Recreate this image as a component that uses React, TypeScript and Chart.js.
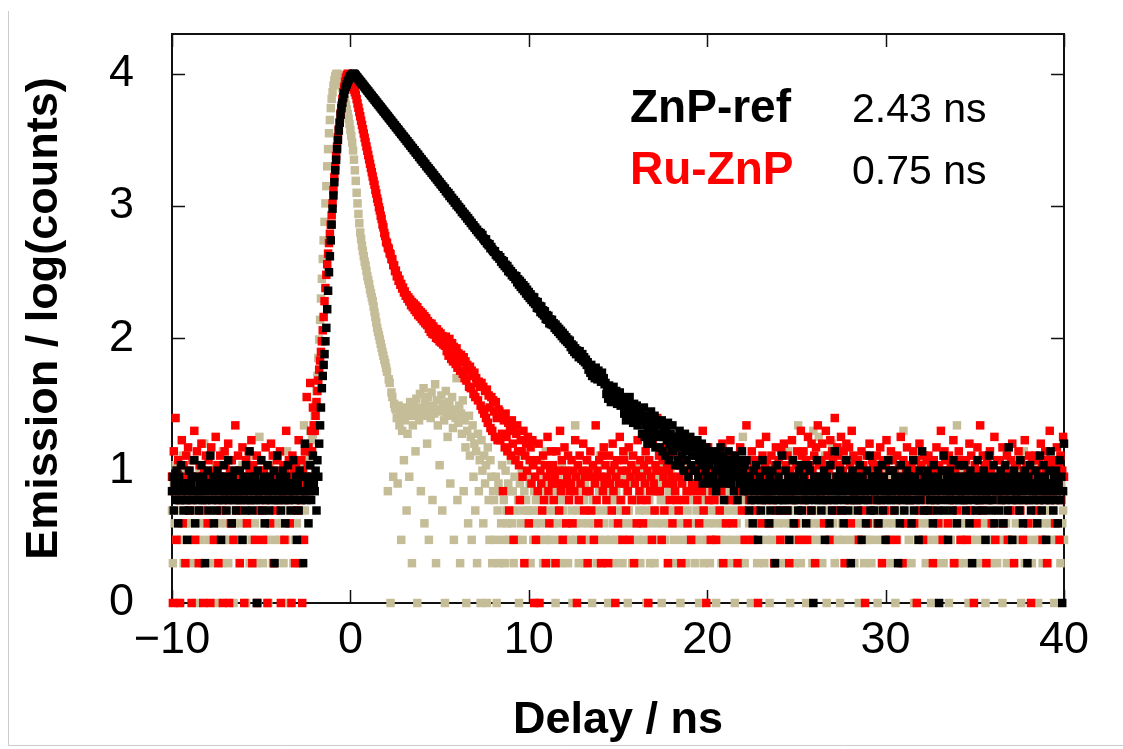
import React, { useEffect, useRef } from 'react';
import { Chart, registerables } from 'chart.js';

Chart.register(...registerables);

// ---------- axes ----------
const X_RANGE = [-10, 40];
const Y_RANGE = [0, 4.3];
const X_TICKS = [-10, 0, 10, 20, 30, 40];
const Y_TICKS = [0, 1, 2, 3, 4];
const X_TITLE = 'Delay / ns';
const Y_TITLE = 'Emission / log(counts)';

// ---------- legend / lifetimes ----------
const SERIES_NAMES = ['ZnP-ref', 'Ru-ZnP', 'IRF'];
const LIFETIMES = ['2.43 ns', '0.75 ns'];

// TCSPC channel width (ns); counts per channel, plotted as log10(counts)
const CHANNEL_NS = 0.05;

// ---------- ZnP-ref (black) ----------
const ZNP_REF_PRE = [ // from -10 ns
  7,9,5,8,6,10,7,4,9,6,11,7,8,5,6,
  8,6,3,7,10,5,8,9,6,7,12,4,7,9,6,
  5,8,7,11,6,9,7,2,8,6,10,5,7,13,8,
  6,9,4,7,8,5,10,6,7,9,3,8,6,11,7,
  9,5,7,12,6,8,7,4,9,6,10,7,5,8,6,
  7,10,6,8,3,9,7,5,11,6,8,7,14,6,9,
  5,8,7,9,6,1,10,7,6,8,12,5,7,9,4,
  8,6,11,7,5,9,6,8,7,10,2,6,8,13,7,
  6,9,5,7,10,8,6,4,9,7,11,6,8,5,7,
  8,12,7,6,9,3,8,5,10,7,6,9,2,7,16,
  9,6,8,4,7,11,6,9,13,8,7,10,5,12,9,
];
const ZNP_REF_PEAK = [ // from -1.75 ns
  16,22,30,42,52,63,76,95,120,166,229,316,417,550,724,955,1202,1514,1862,2239,
  2692,3162,3715,4266,4898,5495,6026,6607,7079,7586,7943,8318,8710,9016,9333,9550,9772,9886,10000,9990,
  9886,
];
const ZNP_REF_DECAY = [ // from 0.30 ns
  9683,9470,9330,9100,8960,8750,8620,8410,8280,8090,7960,7770,7650,7470,7360,7170,7070,6890,6800,6620,
  6530,6370,6280,6120,6040,5880,5800,5660,5570,5440,5360,5220,5150,5020,4950,4830,4760,4640,4570,4460,
  4400,4280,4230,4110,4070,3950,3910,3800,3760,3650,3610,3510,3470,3370,3340,3240,3210,3110,3090,2990,
  2970,2870,2850,2760,2740,2650,2640,2550,2530,2450,2440,2350,2340,2260,2250,2170,2160,2090,2080,2005,
  1995,1930,1920,1860,1845,1785,1775,1720,1705,1650,1640,1590,1575,1525,1515,1465,1455,1410,1400,1350,
  1355,1295,1290,1245,1255,1190,1205,1150,1150,1105,1110,1060,1070,1015,1025,985,980,945,950,900,
  905,875,870,840,840,805,810,775,775,745,745,715,715,690,685,660,660,635,635,610,
  625,590,605,570,560,545,560,525,520,505,515,480,490,470,460,450,455,430,425,415,
  425,400,410,380,390,365,382,352,360,340,352,322,335,315,322,300,310,292,298,280,
  295,265,280,255,272,245,262,236,252,228,244,218,233,210,224,202,215,195,206,188,
  204,182,190,170,188,168,176,158,174,154,163,149,160,140,150,138,148,130,139,128,
  138,126,130,120,127,116,122,112,118,108,114,104,110,100,106,97,102,94,98,91,
  96,86,90,82,88,79,84,76,81,78,72,80,74,70,76,68,72,66,69,63,
  66,58,61,55,63,52,59,56,50,60,54,49,57,51,53,47,55,48,50,45,
  46,38,42,35,44,39,33,41,37,43,34,38,40,32,37,35,39,31,36,33,
  35,27,31,24,33,29,26,36,25,30,28,23,32,27,25,31,22,28,26,24,
  27,19,24,30,18,22,26,16,21,25,19,28,17,23,20,26,15,22,24,18,
  22,15,19,24,14,18,21,13,20,17,23,12,16,19,15,22,14,18,11,17,
  18,12,16,20,11,15,13,17,10,19,14,12,16,9,15,18,11,13,16,10,
  15,10,13,17,9,12,14,11,16,8,13,12,10,15,9,14,11,13,8,12,
  12,9,14,10,7,13,11,8,12,15,10,9,13,6,11,12,8,10,14,9,
  11,8,12,10,7,13,9,11,6,10,12,8,9,14,10,7,11,9,12,8,
];
const ZNP_REF_POST = [ // from 22.30 ns
  7,5,9,6,8,4,10,7,6,11,8,3,7,9,5,6,12,8,7,10,
  6,8,7,4,9,5,7,10,6,8,2,7,11,6,9,5,8,7,13,6,
  8,6,10,7,5,9,3,7,8,6,12,4,7,9,6,8,5,10,7,11,
  5,7,9,6,8,4,7,11,6,10,7,5,8,1,9,6,7,12,8,6,
  9,7,5,8,6,10,3,7,9,6,8,4,11,7,5,8,6,14,7,9,
  6,8,7,10,5,7,9,4,6,8,12,7,5,9,6,2,8,10,7,6,
  7,9,6,5,8,11,7,3,9,6,8,7,4,10,6,8,13,5,7,9,
  8,5,7,9,6,10,4,8,7,6,11,5,9,7,3,8,6,12,7,10,
  6,7,10,8,5,9,6,7,2,8,4,11,7,6,9,5,8,7,10,6,
  9,6,8,4,7,12,5,9,6,8,7,3,10,6,7,14,8,5,9,7,
  7,10,5,8,6,9,7,4,11,6,8,7,5,9,1,8,6,10,7,13,
  5,8,7,9,3,6,10,7,8,5,12,6,9,7,4,8,11,6,7,9,
  8,6,11,7,5,9,6,8,4,10,7,2,8,6,9,5,7,12,6,8,
  6,9,7,5,10,8,3,7,6,9,13,7,5,8,6,11,4,9,7,8,
  7,5,8,10,6,9,4,7,11,6,8,5,15,7,9,6,3,8,10,7,
  9,7,6,8,5,12,7,9,4,6,10,8,7,2,9,6,11,5,8,7,
  6,8,10,7,4,9,6,13,8,5,7,11,6,9,3,7,8,10,6,14,
  8,7,5,9,6,10,7,4,8,12,6,9,1,7,16,
];

// ---------- Ru-ZnP (red) ----------
const RU_ZNP_PRE = [ // from -10 ns
  9,1,14,7,25,3,10,12,6,1,8,17,4,11,9,2,13,7,15,5,
  10,6,1,12,8,20,3,9,14,7,2,11,5,16,8,1,10,6,13,9,
  4,12,8,1,15,7,10,3,9,18,6,11,2,8,13,5,9,1,7,14,
  11,8,6,16,1,10,4,12,9,3,7,22,8,5,13,10,2,9,6,15,
  7,1,9,12,4,8,14,10,6,17,2,11,8,3,9,13,1,7,10,5,
  12,8,3,10,6,15,9,1,11,7,4,16,8,13,2,10,5,9,12,6,
  8,14,1,9,7,11,3,10,20,6,8,12,4,9,1,13,7,10,2,11,
  5,9,17,8,6,12,1,10,3,14,7,36,11,15,9,46,20,14,30,22,
];
const RU_ZNP_PEAK = [ // from -2.00 ns
  20,26,33,40,48,58,68,79,95,115,145,191,240,302,363,437,525,617,724,851,
  1047,1318,1660,1995,2399,2818,3311,3802,4266,5012,5754,6457,7244,7943,8710,9333,9772,10000,9886,9550,
  9120,8710,8318,7943,7586,7244,6918,
];
const RU_ZNP_DECAY = [ // from 0.35 ns
  6427,5957,5530,5129,4764,4416,4102,3802,3532,3273,3041,2818,2618,2427,2254,2089,1941,1799,1671,1549,
  1450,1325,1245,1140,1075,980,925,845,798,725,690,625,593,536,525,485,476,440,432,398,
  395,358,356,322,325,294,298,272,278,254,258,238,242,222,226,210,212,199,204,190,
  196,178,188,172,183,164,177,158,172,150,163,146,158,140,153,135,147,130,142,126,
  135,118,130,112,129,108,123,107,118,101,117,99,112,95,109,93,104,90,100,88,
  103,80,95,74,99,88,70,92,67,86,78,64,84,60,77,72,57,75,66,54,
  72,50,67,48,63,58,43,61,42,57,52,38,55,36,50,46,34,47,43,31,
  46,29,43,27,40,25,41,23,37,30,21,36,20,34,28,18,33,25,17,29,
  28,17,26,19,7,24,15,27,18,14,23,5,20,13,24,16,3,21,12,19,
  22,14,11,6,17,14,9,20,2,13,16,10,18,4,12,15,8,17,11,1,
];
const RU_ZNP_POST = [ // from 10.35 ns
  9,3,12,7,16,1,10,8,5,13,6,11,2,9,18,7,4,10,14,8,
  11,6,9,2,14,8,10,5,20,7,12,3,8,15,10,4,9,13,6,7,
  8,12,4,10,7,17,9,1,11,6,13,8,3,10,16,5,9,7,12,2,
  10,7,14,5,9,11,3,8,22,6,10,4,12,9,2,13,7,15,8,11,
  6,9,2,13,8,10,5,16,7,11,1,9,12,4,8,18,6,10,3,14,
  12,8,5,10,7,15,3,9,11,6,13,2,8,10,4,17,9,7,12,6,
  9,4,11,8,14,6,10,1,12,7,9,3,16,8,5,11,10,25,7,13,
  7,10,3,12,9,5,15,8,11,2,10,6,13,9,4,8,14,7,11,6,
  11,5,9,13,2,8,10,18,6,12,7,4,9,16,10,3,8,11,7,14,
  8,13,6,10,4,9,11,7,20,5,12,8,1,10,15,6,9,3,11,7,
  10,6,12,3,9,8,14,5,11,7,16,2,10,9,4,13,8,12,6,17,
  9,11,4,8,13,6,10,2,12,7,15,9,5,11,8,3,10,22,7,12,
  6,10,8,14,3,11,9,5,12,7,1,10,16,8,4,13,9,6,11,18,
  12,7,9,4,10,13,6,8,2,11,15,9,5,12,10,3,14,8,7,16,
  8,11,5,13,9,2,10,7,17,12,6,9,4,11,14,8,3,10,20,13,
  10,14,6,9,12,3,18,8,11,5,16,10,7,13,2,15,9,22,11,8,
  7,12,16,9,4,11,20,6,13,10,3,17,8,14,12,5,25,9,11,15,
  13,8,11,18,5,10,14,2,12,16,9,6,15,11,4,20,10,13,7,12,
  9,6,12,3,10,8,14,5,11,7,1,9,13,4,10,16,8,6,12,11,
  11,7,9,13,4,10,6,15,8,2,12,9,5,11,17,7,3,10,8,14,
  8,12,5,10,9,3,13,7,11,6,18,9,2,12,8,4,10,15,7,11,
  10,6,11,8,14,4,9,12,1,10,7,16,5,11,9,3,13,8,6,12,
  7,13,9,5,11,8,2,12,10,6,15,9,4,11,7,20,8,3,10,14,
  12,8,10,4,13,7,11,6,9,17,2,10,8,5,12,14,9,3,11,7,
  9,11,6,12,3,10,8,16,5,13,7,9,1,11,8,4,15,10,6,22,
  10,5,13,8,11,7,2,12,9,6,14,10,4,11,8,18,3,9,12,7,
  8,12,6,10,15,4,9,11,7,13,3,10,8,5,12,16,9,2,11,6,
  11,7,14,9,5,12,8,3,10,17,6,11,9,4,13,8,1,12,10,7,
  9,13,5,10,8,12,6,16,11,3,9,7,14,10,2,12,8,20,6,11,
  10,7,12,4,9,15,8,11,3,13,6,10,18,9,
];

// ---------- IRF (tan) ----------
const IRF_PRE = [ // from -10 ns
  5,2,8,4,11,3,7,1,6,9,3,5,13,2,7,4,10,6,3,8,
  4,9,2,6,3,12,5,7,1,8,4,10,3,6,2,5,16,7,4,9,
  7,3,5,10,2,6,4,8,3,11,5,1,7,4,9,2,6,14,3,5,
  6,4,9,2,7,3,12,5,8,1,4,6,10,3,5,7,2,9,4,11,
  3,8,5,1,6,4,9,2,7,13,3,5,8,4,6,2,10,5,18,7,
  5,7,2,10,4,6,3,8,1,5,11,4,7,2,9,3,6,12,4,8,
  8,3,6,4,9,2,5,7,3,14,6,1,4,8,5,10,2,7,3,6,
  4,9,5,2,11,6,3,8,22,5,7,13,9,16,12,20,
];
const IRF_PEAK = [ // from -2.20 ns
  14,17,19,22,26,32,40,52,71,98,138,200,282,398,550,759,1047,1413,1995,2692,
  3548,4467,5495,6457,7244,8128,8913,9550,9886,10000,9886,9550,9120,8710,8222,7762,7244,6761,6310,5821,
  5370,4955,4571,4169,3758,3388,3020,2630,2239,1862,1549,1259,1047,871,741,631,562,501,457,417,
  380,355,324,295,275,257,234,219,204,191,174,158,145,132,120,112,105,98,91,85,
  79,74,69,65,60,56,7,49,46,1,39,36,9,32,30,
];
const IRF_BUMP = [ // from 2.55 ns
  29,25,8,31,22,27,3,20,26,12,
  24,30,5,19,28,9,33,26,2,22,
  31,27,14,35,1,29,24,38,7,30,
  26,42,4,33,28,16,36,3,31,25,
  39,6,30,27,45,2,34,22,29,11,
  28,37,5,32,24,1,40,27,18,30,
  33,8,26,36,21,3,29,25,50,6,
  23,31,2,27,19,34,7,24,15,1,
  20,4,26,13,18,3,22,9,16,5,
  14,2,19,7,12,1,17,10,4,13,
  8,11,1,15,6,3,12,9,2,7,
];
const IRF_POST = [ // from 8.05 ns
  6,3,9,1,5,8,2,7,4,11,3,6,2,10,5,4,8,3,7,12,
  4,7,2,9,5,3,13,6,1,8,4,10,3,5,7,2,6,9,4,5,
  8,2,5,11,3,7,4,6,1,9,5,3,12,4,7,2,8,6,14,3,
  5,9,3,6,2,8,4,10,5,1,7,3,9,4,6,2,11,5,8,3,
  7,4,10,2,6,3,9,5,1,8,4,22,3,7,5,2,10,6,4,9,
  3,6,8,2,5,12,4,7,3,9,1,6,4,10,5,2,8,3,7,13,
  9,2,5,4,11,3,7,6,1,8,5,3,9,4,6,2,10,7,3,5,
  4,8,3,6,2,9,5,14,4,7,1,5,3,10,6,2,8,4,11,6,
  6,3,10,5,2,7,4,9,3,12,5,1,8,4,6,2,9,3,7,5,
  2,7,4,9,5,3,8,6,1,11,4,6,3,16,5,2,7,4,10,8,
  5,9,3,7,2,6,4,12,5,1,8,3,9,6,4,2,7,5,11,3,
  7,3,6,10,4,2,8,5,3,9,1,6,4,13,5,2,7,3,8,6,
  4,8,2,5,11,3,6,9,4,1,7,5,10,3,6,2,8,4,12,5,
  3,6,9,4,2,7,5,10,3,8,1,6,4,11,5,2,9,3,7,18,
  6,2,8,5,3,10,4,7,1,9,5,3,6,12,4,2,8,5,7,4,
  8,4,6,2,9,3,11,5,7,1,4,8,3,6,10,2,5,9,4,7,
  5,3,7,10,2,6,4,9,3,8,14,5,1,7,4,11,6,2,8,3,
  6,22,4,8,2,5,9,3,12,6,1,7,4,10,3,5,8,2,20,4,
  9,5,3,7,18,4,11,6,2,8,3,13,5,1,7,4,10,6,3,16,
  4,7,2,9,5,3,8,6,1,10,4,7,3,12,5,2,6,9,4,8,
  7,3,10,5,2,6,4,9,3,1,8,5,11,4,6,2,7,3,9,5,
  3,8,5,2,7,4,12,6,3,9,1,5,8,4,10,2,6,3,7,11,
  6,4,9,3,5,2,8,7,4,13,1,6,3,10,5,2,9,4,7,20,
  5,2,7,4,10,3,6,9,2,8,5,1,11,4,6,3,8,5,12,4,
  8,3,5,11,2,7,4,6,3,9,1,5,10,4,7,2,6,3,8,5,
  4,9,3,6,2,8,5,12,4,7,1,6,3,10,5,2,9,4,7,22,
  7,2,6,4,10,3,5,8,2,11,4,6,1,9,3,7,5,2,8,4,
  5,8,3,9,4,6,2,7,5,13,3,1,8,4,10,6,2,7,3,9,
  6,3,10,5,2,7,4,9,3,6,1,8,5,11,4,2,7,3,12,5,
  3,7,5,2,8,4,6,10,3,9,5,1,7,4,14,2,6,3,8,4,
  9,4,6,2,11,5,3,7,4,8,1,6,3,10,5,2,9,4,7,6,
  5,2,8,4,6,3,12,5,1,9,4,7,3,6,10,2,8,4,5,3,
];

// segment start times (ns) paired with their count arrays
const ZNP_REF_SEGMENTS: [number, number[]][] = [[-10, ZNP_REF_PRE], [-1.75, ZNP_REF_PEAK], [0.3, ZNP_REF_DECAY], [22.3, ZNP_REF_POST]];
const RU_ZNP_SEGMENTS: [number, number[]][] = [[-10, RU_ZNP_PRE], [-2.0, RU_ZNP_PEAK], [0.35, RU_ZNP_DECAY], [10.35, RU_ZNP_POST]];
const IRF_SEGMENTS: [number, number[]][] = [[-10, IRF_PRE], [-2.2, IRF_PEAK], [2.55, IRF_BUMP], [8.05, IRF_POST]];

function toPoints(segments: [number, number[]][]) {
  const pts: { x: number; y: number }[] = [];
  for (const [start, counts] of segments) {
    counts.forEach((c, i) => {
      const x = start + i * CHANNEL_NS;
      if (c > 0 && x >= X_RANGE[0] - 1e-6 && x <= X_RANGE[1] + 1e-6) {
        pts.push({ x, y: Math.log10(c) });
      }
    });
  }
  return pts;
}

const FONT = '"Liberation Sans", Arial, Helvetica, sans-serif';

const framePlugin = {
  id: 'frame',
  beforeDraw(chart: any) {
    const ctx = chart.ctx;
    ctx.save();
    ctx.fillStyle = '#ffffff';
    ctx.fillRect(0, 0, chart.width, chart.height);
    ctx.strokeStyle = '#cccccc';
    ctx.lineWidth = 1;
    ctx.beginPath();
    ctx.moveTo(8.5, 11);
    ctx.lineTo(8.5, 745.5);
    ctx.lineTo(chart.width, 745.5);
    ctx.stroke();
    ctx.restore();
  },
  beforeDatasetsDraw(chart: any) {
    const { ctx, chartArea: a, scales } = chart;
    ctx.save();
    ctx.strokeStyle = '#111111';
    ctx.lineWidth = 2;
    ctx.strokeRect(a.left, a.top, a.right - a.left, a.bottom - a.top);
    ctx.lineWidth = 1.5;
    const L = 13;
    ctx.beginPath();
    X_TICKS.forEach((v) => {
      const px = Math.round(scales.x.getPixelForValue(v)) + 0.5;
      ctx.moveTo(px, a.bottom);
      ctx.lineTo(px, a.bottom - L);
      ctx.moveTo(px, a.top);
      ctx.lineTo(px, a.top + L);
    });
    Y_TICKS.forEach((v) => {
      const py = Math.round(scales.y.getPixelForValue(v)) + 0.5;
      ctx.moveTo(a.left, py);
      ctx.lineTo(a.left + L, py);
      ctx.moveTo(a.right, py);
      ctx.lineTo(a.right - L, py);
    });
    ctx.stroke();
    ctx.restore();
  },
};

const lifetimePlugin = {
  id: 'lifetimes',
  afterDraw(chart: any) {
    const ctx = chart.ctx;
    ctx.save();
    ctx.textAlign = 'left';
    ctx.textBaseline = 'alphabetic';
    const colors = ['#000000', '#ff0000'];
    const baselines = [122, 184];
    for (let k = 0; k < 2; k++) {
      ctx.font = `bold 46px ${FONT}`;
      ctx.fillStyle = colors[k];
      ctx.fillText(SERIES_NAMES[k], 630, baselines[k]);
      ctx.font = `41px ${FONT}`;
      ctx.fillStyle = '#000000';
      ctx.fillText(LIFETIMES[k], 852, baselines[k]);
    }
    ctx.restore();
  },
};

export default function App() {
  const ref = useRef<HTMLCanvasElement | null>(null);

  useEffect(() => {
    if (!ref.current) return;
    const common = {
      pointStyle: 'rect',
      pointRadius: 6,
      pointHoverRadius: 6,
      pointBorderWidth: 0,
      borderWidth: 0,
      showLine: false,
      clip: false,
    };
    const chart = new Chart(ref.current, {
      type: 'scatter',
      data: {
        datasets: [
          { ...common, label: SERIES_NAMES[0], data: toPoints(ZNP_REF_SEGMENTS), backgroundColor: '#000000' },
          { ...common, label: SERIES_NAMES[1], data: toPoints(RU_ZNP_SEGMENTS), backgroundColor: '#ff0000' },
          { ...common, label: SERIES_NAMES[2], data: toPoints(IRF_SEGMENTS), backgroundColor: 'rgb(197,189,152)' },
        ] as any,
      },
      options: {
        animation: false,
        responsive: false,
        events: [],
        layout: { padding: { top: 34, right: 59, left: 0, bottom: 0 } },
        plugins: { legend: { display: false }, tooltip: { enabled: false } },
        scales: {
          x: {
            type: 'linear',
            min: X_RANGE[0],
            max: X_RANGE[1],
            grid: { display: false, drawTicks: false },
            border: { display: false },
            afterBuildTicks: (s: any) => { s.ticks = X_TICKS.map((v) => ({ value: v })); },
            afterFit: (s: any) => { s.height = 146; },
            ticks: {
              autoSkip: false,
              maxRotation: 0,
              minRotation: 0,
              padding: 15,
              color: '#000000',
              font: { family: FONT, size: 45, lineHeight: 1 },
              callback: (v: any) => (Number(v) < 0 ? '\u2212' + Math.abs(Number(v)) : String(v)),
            },
            title: {
              display: true,
              text: X_TITLE,
              color: '#000000',
              font: { family: FONT, size: 45, weight: 'bold', lineHeight: 1 },
              padding: { top: 0, bottom: 6 },
            },
          },
          y: {
            type: 'linear',
            min: Y_RANGE[0],
            max: Y_RANGE[1],
            grid: { display: false, drawTicks: false },
            border: { display: false },
            afterBuildTicks: (s: any) => { s.ticks = Y_TICKS.map((v) => ({ value: v })); },
            afterFit: (s: any) => { s.width = 172; s.paddingTop = 0; s.paddingBottom = 0; },
            ticks: {
              padding: 38,
              color: '#000000',
              font: { family: FONT, size: 45, lineHeight: 1 },
              callback: (v: any) => String(v),
            },
            title: {
              display: true,
              text: Y_TITLE,
              color: '#000000',
              font: { family: FONT, size: 45, weight: 'bold', lineHeight: 1 },
              padding: { top: 22, bottom: 0 },
            },
          },
        },
      } as any,
      plugins: [framePlugin, lifetimePlugin],
    });
    return () => chart.destroy();
  }, []);

  return (
    <div style={{ position: 'fixed', left: 0, top: 0, width: 1123, height: 749, background: '#ffffff', overflow: 'hidden' }}>
      <canvas ref={ref} width={1123} height={749} style={{ display: 'block', width: 1123, height: 749 }} />
    </div>
  );
}
